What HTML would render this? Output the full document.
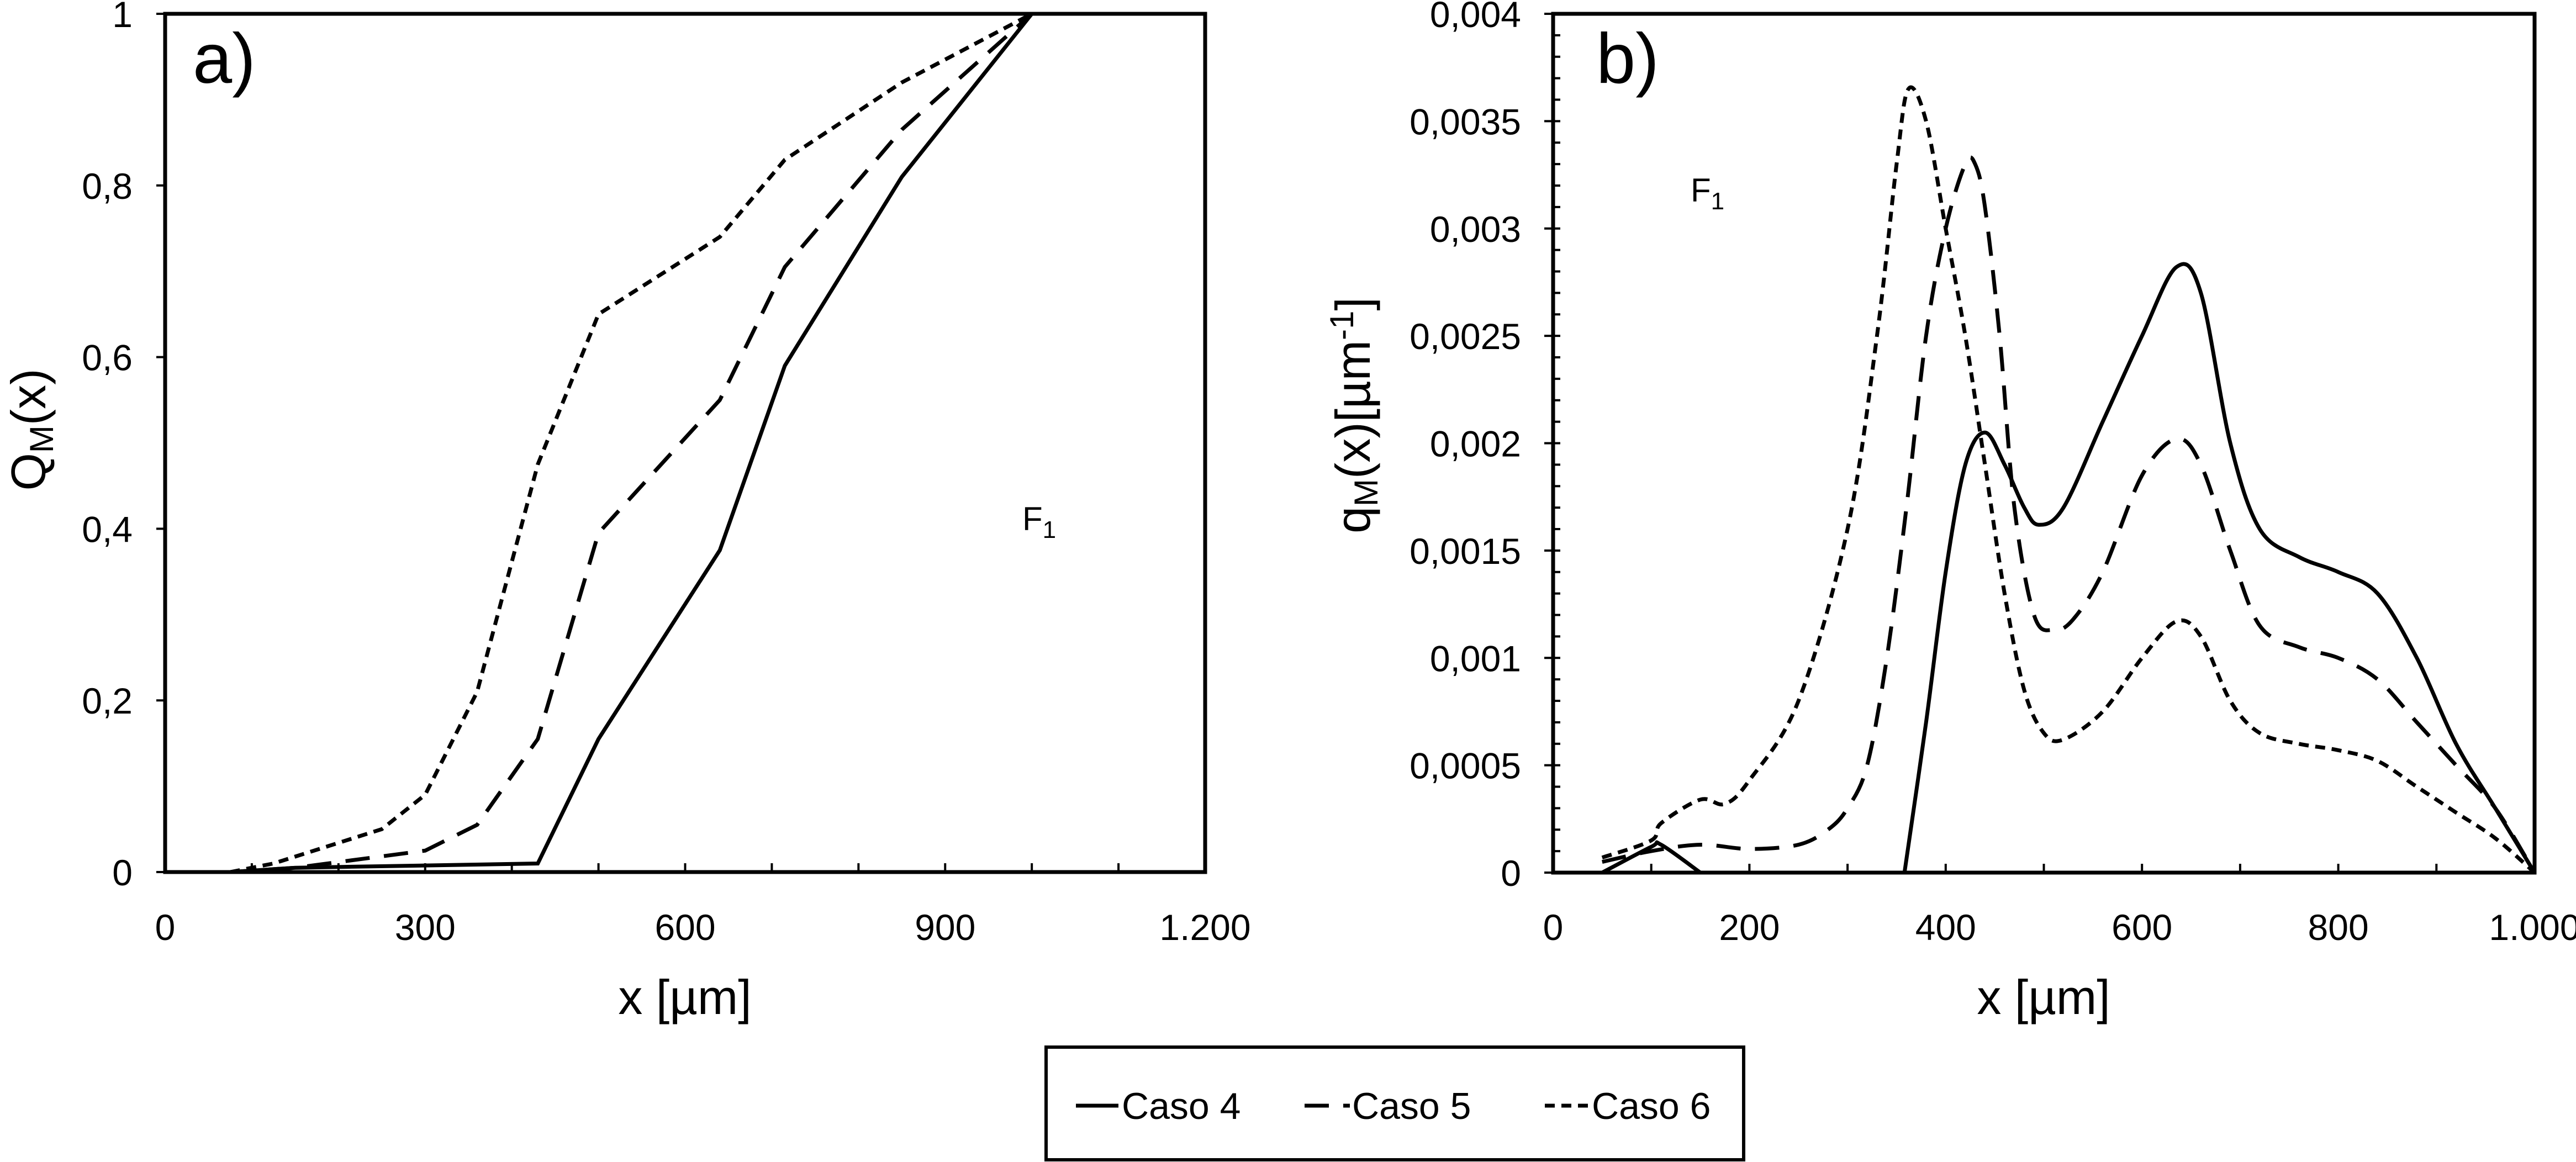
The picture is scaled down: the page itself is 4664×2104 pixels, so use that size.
<!DOCTYPE html>
<html><head><meta charset="utf-8"><style>
html,body{margin:0;padding:0;background:#fff;}
svg{display:block;font-family:"Liberation Sans",Arial,sans-serif;}
</style></head><body>
<svg id="svg" width="4664" height="2104" viewBox="0 0 4664 2104" xmlns="http://www.w3.org/2000/svg">
<rect width="4664" height="2104" fill="#fff"/>
<g id="ga"></g>
<g id="gb"></g>
<g>
<rect x="1894" y="1896" width="1263" height="204" fill="#fff" stroke="#000" stroke-width="6"/>
<g>
<line x1="1948" y1="2002" x2="2025" y2="2002" stroke="#000" stroke-width="7"/>
<text x="2031" y="2026" font-size="68">Caso 4</text></g>
<g>
<line x1="2362" y1="2002" x2="2444" y2="2002" stroke="#000" stroke-width="7" stroke-dasharray="44,26"/>
<text x="2448" y="2026" font-size="68">Caso 5</text></g>
<g>
<line x1="2797" y1="2002" x2="2882" y2="2002" stroke="#000" stroke-width="7" stroke-dasharray="18,12"/>
<text x="2882" y="2026" font-size="68">Caso 6</text></g>
</g>
</svg>
<script>
// ---- Chart a data ----
const aX4 = [75,150,430,500,640,715,850,1000];
const aY4 = [0,0.005,0.01,0.155,0.375,0.59,0.81,1];
const aX5 = [75,150,300,360,430,500,640,715,850,1000];
const aY5 = [0,0.005,0.025,0.055,0.155,0.395,0.55,0.705,0.865,1];
const aX6 = [75,125,250,300,360,430,500,640,715,850,1000];
const aY6 = [0,0.01,0.05,0.09,0.21,0.475,0.65,0.74,0.83,0.92,1];
const aXTicks = [0,300,600,900,1200];
const aXTickLabels = ["0","300","600","900","1.200"];
const aYTicks = [0,0.2,0.4,0.6,0.8,1];
const aYTickLabels = ["0","0,2","0,4","0,6","0,8","1"];
// ---- Chart b data ----
const bX4 = [50,100,110,150];
const bY4 = [0,0.00012,0.00013,0];
const bX4b = [358,380,400,420,440,460,480,495,520,560,600,635,660,690,720,760,800,840,880,920,960,1000];
const bY4b = [0,0.0007,0.0014,0.0019,0.00205,0.0019,0.0017,0.00162,0.0017,0.0021,0.0025,0.00282,0.0027,0.002,0.0016,0.00147,0.0014,0.0013,0.001,0.0006,0.0003,0];
const bX5 = [50,100,150,200,250,280,300,320,340,360,380,400,420,430,440,455,470,490,510,530,560,600,635,660,690,720,760,800,840,880,920,960,1000];
const bY5 = [0.00005,0.0001,0.00013,0.00011,0.00013,0.0002,0.0003,0.0005,0.001,0.0017,0.0025,0.003,0.0033,0.0033,0.0031,0.0025,0.0017,0.0012,0.00113,0.00118,0.0014,0.00185,0.00202,0.0019,0.0015,0.00115,0.00105,0.001,0.0009,0.0007,0.0005,0.0003,0];
const bX6 = [50,100,110,150,175,200,250,300,330,350,362,380,400,420,440,460,480,500,520,560,600,635,660,690,720,760,800,840,880,920,960,1000];
const bY6 = [0.00007,0.00015,0.00023,0.00034,0.00032,0.00043,0.0008,0.0016,0.0025,0.0033,0.00365,0.0035,0.003,0.0025,0.0019,0.0013,0.00085,0.00065,0.00062,0.00075,0.001,0.00117,0.0011,0.0008,0.00065,0.0006,0.00057,0.00052,0.0004,0.00028,0.00016,0];
const bXTicks = [0,200,400,600,800,1000];
const bXTickLabels = ["0","200","400","600","800","1.000"];
const bYTicks = [0,0.0005,0.001,0.0015,0.002,0.0025,0.003,0.0035,0.004];
const bYTickLabels = ["0","0,0005","0,001","0,0015","0,002","0,0025","0,003","0,0035","0,004"];

const NS="http://www.w3.org/2000/svg";
const LW=7, D5='44,26', D6='18,12', TF=66;
function mk(parent,tag,attrs,txt){const e=document.createElementNS(NS,tag);for(const k in attrs)e.setAttribute(k,attrs[k]);if(txt!==undefined)e.textContent=txt;parent.appendChild(e);return e;}

function linPath(xs,ys,sx,sy){return xs.map((x,i)=>(i?'L':'M')+sx(x).toFixed(1)+' '+sy(ys[i]).toFixed(1)).join(' ');}
function smoothPath(xs,ys,sx,sy){
  const p=xs.map((x,i)=>[sx(x),sy(ys[i])]);
  let d='M'+p[0][0].toFixed(1)+' '+p[0][1].toFixed(1);
  for(let i=0;i<p.length-1;i++){
    const p0=p[i-1]||p[i],p1=p[i],p2=p[i+1],p3=p[i+2]||p2;
    const c1=[p1[0]+(p2[0]-p0[0])/6,p1[1]+(p2[1]-p0[1])/6];
    const c2=[p2[0]-(p3[0]-p1[0])/6,p2[1]-(p3[1]-p1[1])/6];
    d+=' C'+c1[0].toFixed(1)+' '+c1[1].toFixed(1)+' '+c2[0].toFixed(1)+' '+c2[1].toFixed(1)+' '+p2[0].toFixed(1)+' '+p2[1].toFixed(1);
  }
  return d;
}

// ---- Chart a ----
(function(){
  const g=document.getElementById('ga');
  const L=299,R=2182,T=25,B=1579;
  const sx=v=>L+(v/1200)*(R-L), sy=v=>B-v*(B-T);
  let e;
  for(let v=0;v<=1200;v+=100){
    e=mk(g,'line',{x1:sx(v),x2:sx(v),y1:B,y2:B-16,stroke:'#000','stroke-width':4});
    
    
  }
  aXTicks.forEach((v,i)=>{
    e=mk(g,'text',{x:sx(v),y:1702,'font-size':TF,'text-anchor':'middle'},aXTickLabels[i]);
    
    
  });
  aYTicks.forEach((v,i)=>{
    e=mk(g,'line',{x1:L-16,x2:L,y1:sy(v),y2:sy(v),stroke:'#000','stroke-width':4});
    
    
    e=mk(g,'text',{x:240,y:sy(v)+24,'font-size':TF,'text-anchor':'end'},aYTickLabels[i]);
    
    
  });
  const series=[[aX4,aY4,'none','series-caso-4'],[aX5,aY5,D5,'series-caso-5'],[aX6,aY6,D6,'series-caso-6']];
  series.forEach(s=>{
    e=mk(g,'path',{d:linPath(s[0],s[1],sx,sy),fill:'none',stroke:'#000','stroke-width':LW,'stroke-dasharray':s[2]});
    
    
  });
  e=mk(g,'rect',{x:L,y:T,width:R-L,height:B-T,fill:'none',stroke:'#000','stroke-width':7});
  
  
  e=mk(g,'text',{x:349,y:150,'font-size':128},'a)');
  
  
  e=mk(g,'text',{x:1851,y:960,'font-size':60});
  e.innerHTML='F<tspan font-size="44" dy="14">1</tspan>';
  
  
  e=mk(g,'text',{x:1240,y:1836,'font-size':88,'text-anchor':'middle'},'x [µm]');
  
  
  e=mk(g,'text',{x:0,y:0,'font-size':88,'text-anchor':'middle',transform:'translate(82,778) rotate(-90)'});
  e.innerHTML='Q<tspan font-size="60" dy="14">M</tspan><tspan dy="-14">(x)</tspan>';
  
  
})();

// ---- Chart b ----
(function(){
  const g=document.getElementById('gb');
  const L=2812,R=4589,T=25,B=1580;
  const sx=v=>L+(v/1000)*(R-L), sy=v=>B-(v/0.004)*(B-T);
  let e;
  for(let v=0;v<=1000;v+=100){
    e=mk(g,'line',{x1:sx(v),x2:sx(v),y1:B,y2:B-16,stroke:'#000','stroke-width':4});
    
    
  }
  for(let k=0;k<=40;k++){
    e=mk(g,'line',{x1:L,x2:L+13,y1:sy(k*0.0001),y2:sy(k*0.0001),stroke:'#000','stroke-width':4});
    
    
  }
  bXTicks.forEach((v,i)=>{
    e=mk(g,'text',{x:sx(v),y:1702,'font-size':TF,'text-anchor':'middle'},bXTickLabels[i]);
    
    
  });
  bYTicks.forEach((v,i)=>{
    e=mk(g,'line',{x1:L-16,x2:L,y1:sy(v),y2:sy(v),stroke:'#000','stroke-width':4});
    
    
    e=mk(g,'text',{x:2754,y:sy(v)+24,'font-size':TF,'text-anchor':'end'},bYTickLabels[i]);
    
    
  });
  const series=[[bX4,bY4,'none','series-caso-4-bump'],[bX4b,bY4b,'none','series-caso-4'],[bX5,bY5,D5,'series-caso-5'],[bX6,bY6,D6,'series-caso-6']];
  series.forEach(s=>{
    e=mk(g,'path',{d:smoothPath(s[0],s[1],sx,sy),fill:'none',stroke:'#000','stroke-width':LW,'stroke-dasharray':s[2]});
    
    
  });
  e=mk(g,'rect',{x:L,y:T,width:R-L,height:B-T,fill:'none',stroke:'#000','stroke-width':7});
  
  
  e=mk(g,'text',{x:2890,y:150,'font-size':128},'b)');
  
  
  e=mk(g,'text',{x:3061,y:365,'font-size':60});
  e.innerHTML='F<tspan font-size="44" dy="14">1</tspan>';
  
  
  e=mk(g,'text',{x:3700,y:1836,'font-size':88,'text-anchor':'middle'},'x [µm]');
  
  
  e=mk(g,'text',{x:0,y:0,'font-size':88,'text-anchor':'middle',transform:'translate(2480,752) rotate(-90)'});
  e.innerHTML='q<tspan font-size="60" dy="14">M</tspan><tspan dy="-14">(x)[µm</tspan><tspan font-size="60" dy="-30">-1</tspan><tspan dy="30">]</tspan>';
  
  
})();
</script>
</body></html>
